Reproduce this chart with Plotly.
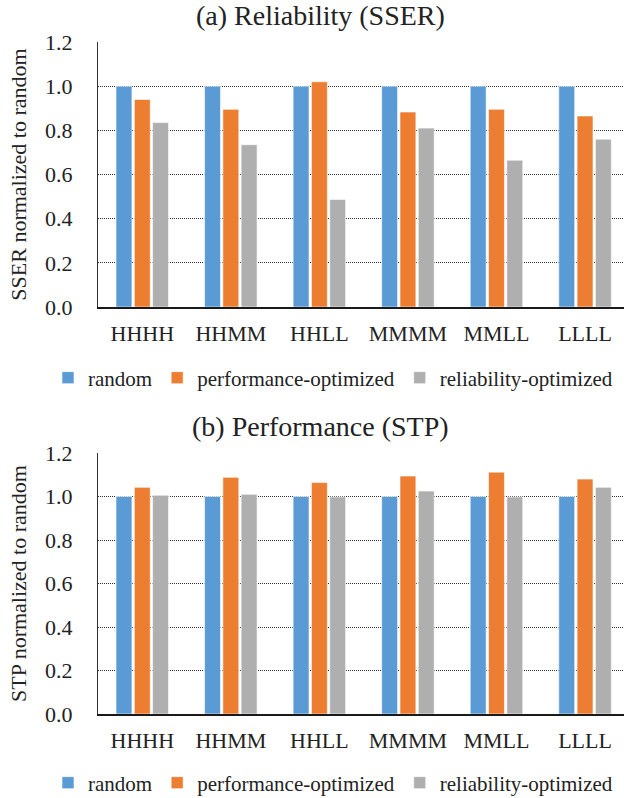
import plotly.graph_objects as go

categories = ["HHHH", "HHMM", "HHLL", "MMMM", "MMLL", "LLLL"]
series_names = ["random", "performance-optimized", "reliability-optimized"]
sser_random = [1.0, 1.0, 1.0, 1.0, 1.0, 1.0]
sser_perf = [0.94, 0.895, 1.02, 0.883, 0.895, 0.865]
sser_rel = [0.835, 0.735, 0.487, 0.81, 0.665, 0.76]
stp_random = [1.0, 1.0, 1.0, 1.0, 1.0, 1.0]
stp_perf = [1.042, 1.088, 1.064, 1.094, 1.112, 1.08]
stp_rel = [1.006, 1.01, 0.998, 1.025, 0.998, 1.042]
y_ticks = [0.0, 0.2, 0.4, 0.6, 0.8, 1.0, 1.2]
y_ticktext = ["0.0", "0.2", "0.4", "0.6", "0.8", "1.0", "1.2"]

colors = ["#5B9BD5", "#ED7D31", "#AFAFAF"]
FONT = "Liberation Serif"
TXT = "#222222"
W, H = 624, 798

fig = go.Figure()
top = [sser_random, sser_perf, sser_rel]
bot = [stp_random, stp_perf, stp_rel]
for i, name in enumerate(series_names):
    fig.add_trace(go.Bar(x=categories, y=top[i], name=name,
                         marker=dict(color=colors[i], line=dict(color="white", width=0.6)),
                         xaxis="x", yaxis="y", legend="legend", legendgroup="a" + str(i)))
for i, name in enumerate(series_names):
    fig.add_trace(go.Bar(x=categories, y=bot[i], name=name,
                         marker=dict(color=colors[i], line=dict(color="white", width=0.6)),
                         xaxis="x2", yaxis="y2", legend="legend2", legendgroup="b" + str(i)))

def py(p):
    return (H - p) / H

x_dom = [98 / W, 1.0]
xrange_ = [-0.5, 5.44]
xaxis_common = dict(type="category", range=xrange_, showgrid=False, showline=True, linecolor="#1a1a1a", linewidth=1.6,
                    ticks="", tickfont=dict(family=FONT, size=22, color=TXT), ticklabelstandoff=6,
                    domain=x_dom, zeroline=False, automargin=False)
yaxis_common = dict(range=[0, 1.2], tickvals=y_ticks, ticktext=y_ticktext, showgrid=True, gridcolor="#333333",
                    griddash="1px,1px", gridwidth=1, showline=True, linecolor="#333333", linewidth=1.4, ticks="",
                    tickfont=dict(family=FONT, size=22, color=TXT), ticklabelstandoff=20, zeroline=False,
                    automargin=False)

fig.update_layout(
    width=W, height=H, margin=dict(l=0, r=0, t=0, b=0, autoexpand=False),
    paper_bgcolor="white", plot_bgcolor="white",
    barmode="group", bargap=0.38, bargroupgap=0.13,
    font=dict(family=FONT, color=TXT),
    xaxis=dict(**xaxis_common, anchor="y"),
    yaxis=dict(**yaxis_common, domain=[py(307), py(42)], anchor="x",
               title=dict(text="SSER normalized to random", font=dict(family=FONT, size=22, color=TXT), standoff=12)),
    xaxis2=dict(**xaxis_common, anchor="y2"),
    yaxis2=dict(**yaxis_common, domain=[py(714), py(453)], anchor="x2",
                title=dict(text="STP normalized to random", font=dict(family=FONT, size=22, color=TXT), standoff=12)),
    legend=dict(orientation="h", x=333 / W, xanchor="center", y=py(378), yanchor="middle",
                font=dict(family=FONT, size=21, color=TXT), itemwidth=30, tracegroupgap=0),
    legend2=dict(orientation="h", x=333 / W, xanchor="center", y=py(783), yanchor="middle",
                 font=dict(family=FONT, size=21, color=TXT), itemwidth=30, tracegroupgap=0),
    annotations=[
        dict(text="(a) Reliability (SSER)", x=320 / W, y=py(15), xref="paper", yref="paper", showarrow=False,
             font=dict(family=FONT, size=28, color=TXT), xanchor="center", yanchor="middle"),
        dict(text="(b) Performance (STP)", x=320 / W, y=py(426), xref="paper", yref="paper", showarrow=False,
             font=dict(family=FONT, size=28, color=TXT), xanchor="center", yanchor="middle"),
    ],
)

fig.write_html("out.html", config={"displayModeBar": False},
               post_script="document.body.style.margin='0px';")
